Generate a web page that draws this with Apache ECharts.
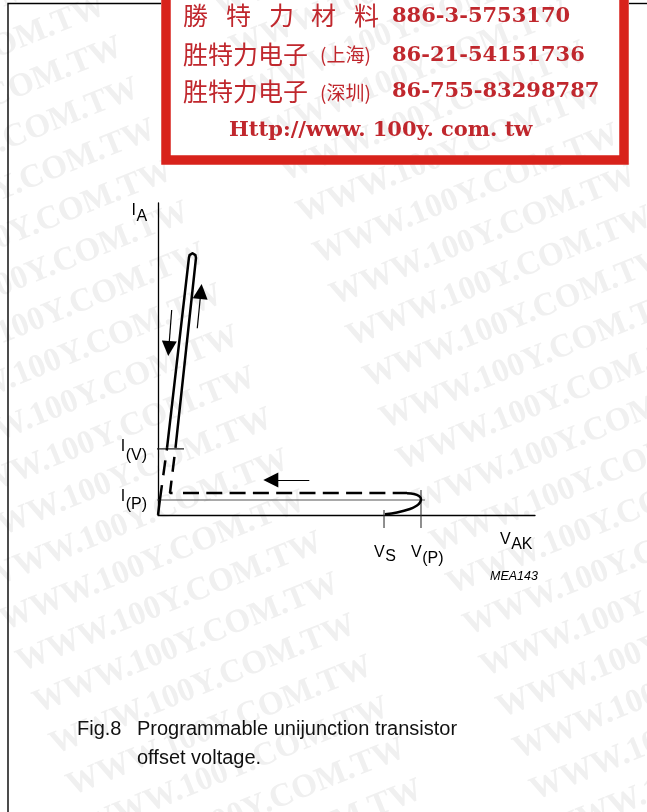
<!DOCTYPE html>
<html>
<head>
<meta charset="utf-8">
<script src="https://cdn.jsdelivr.net/npm/echarts@6/dist/echarts.min.js"></script>
<style>
  html, body { margin: 0; padding: 0; background: #ffffff; }
  #main { width: 647px; height: 812px; }
</style>
</head>
<body>
<div id="main"></div>
<script>
// Programmable unijunction transistor: I_A against V_AK, schematic units (0..100 on both axes)
const vAxisMax = 100;
const iAxisMax = 100;

// Characteristic levels
const iPeak = 4.8;      // I(P)
const iValley = 21.2;   // I(V)
const vS = 59.95;       // V_S
const vPeak = 69.76;    // V(P)

// Trace pieces, [V_AK, I_A]
const originRise     = [[0, 0], [0.5, 4.8]];
const riseToValley   = [[0.5, 4.8], [2.4, 21.5]];
const onStateLoop    = [[2.4, 21.5], [8.2, 82.4], [8.38, 83.3], [9.15, 83.9], [9.92, 83.3], [10.08, 82.4], [4.64, 21.5]];
const fallToPeakLvl  = [[4.64, 21.5], [3.18, 7.05], [5.31, 7.05]];
const returnTrace    = [[6.63, 7.05], [66.05, 7.05]];
const peakTurn       = [[66.05, 6.96], [67.9, 6.73], [69.23, 6.09], [69.76, 5.13], [69.5, 4.01], [68.7, 3.04], [66.84, 1.92], [63.4, 0.8], [60.21, 0.22]];

// Marker lines
const valleyMarker = [[-1.33, iValley], [6.9, iValley]];
const peakMarker   = [[-1.33, iPeak], [70.82, iPeak]];
const vSMarker     = [[vS, 1.6], [vS, -4.2]];
const vPeakMarker  = [[vPeak, 8.0], [vPeak, -4.2]];

// Direction arrows along the trace
const traceArrows = [
  [[3.63, 65.71], [2.86, 53.37]],
  [[10.42, 59.84], [11.38, 71.63]],
  [[40.13, 11.22], [29.92, 11.22]]
];

// Texts
const boxLines = {
  row1Cjk: ['勝', '特', '力', '材', '料'],
  row1Num: '886-3-5753170',
  row2Cjk: '胜特力电子', row2Loc: '(上海)', row2Num: '86-21-54151736',
  row3Cjk: '胜特力电子', row3Loc: '(深圳)', row3Num: '86-755-83298787',
  url: 'Http://www. 100y. com. tw'
};
const captionNo = 'Fig.8';
const captionLines = ['Programmable unijunction transistor', 'offset voltage.'];
const drawingCode = 'MEA143';
const watermarkText = 'WWW.100Y.COM.TW';

const chart = echarts.init(document.getElementById('main'), null, { renderer: 'canvas' });

function lineSeries(data, opts) {
  return Object.assign({
    type: 'line', data: data, showSymbol: false, symbol: 'none', silent: true,
    animation: false, z: 4,
    lineStyle: { color: '#000', width: 2.5, cap: 'butt', join: 'round' }
  }, opts);
}

const black = '#000';
chart.setOption({
  animation: false,
  backgroundColor: '#ffffff',
  grid: { left: 158, top: 203, width: 377, height: 312, outerBoundsMode: 'none', containLabel: false },
  xAxis: {
    type: 'value', min: 0, max: vAxisMax, z: 3,
    axisLine: { show: true, onZero: false, lineStyle: { color: black, width: 1.3 } },
    axisTick: { show: false }, axisLabel: { show: false }, splitLine: { show: false }
  },
  yAxis: {
    type: 'value', min: 0, max: iAxisMax, z: 3,
    axisLine: { show: true, onZero: false, lineStyle: { color: black, width: 1.3 } },
    axisTick: { show: false }, axisLabel: { show: false }, splitLine: { show: false }
  },
  series: [
    lineSeries(peakMarker,   { clip: false, z: 3, lineStyle: { color: '#555', width: 1.1 } }),
    lineSeries(valleyMarker, { clip: false, z: 3, lineStyle: { color: '#222', width: 1.1 } }),
    lineSeries(vSMarker,     { clip: false, z: 3, lineStyle: { color: '#333', width: 1.1 } }),
    lineSeries(vPeakMarker,  { clip: false, z: 3, lineStyle: { color: '#333', width: 1.1 } }),
    lineSeries(originRise,   { clip: false }),
    lineSeries(riseToValley, { clip: false, lineStyle: { color: black, width: 2.5, type: [15, 10] } }),
    lineSeries(onStateLoop,  { clip: false, smooth: false }),
    lineSeries(fallToPeakLvl,{ clip: false, lineStyle: { color: black, width: 2.5, type: [15, 9], dashOffset: 15 } }),
    lineSeries(returnTrace,  { clip: false, lineStyle: { color: black, width: 2.5, type: [16, 7.3] } }),
    lineSeries(peakTurn,     { clip: false, smooth: 0.4 }),
    {
      type: 'lines', coordinateSystem: 'cartesian2d', silent: true, animation: false, z: 4,
      symbol: ['none', 'triangle'], symbolSize: [7, 15],
      lineStyle: { color: black, width: 1.2, opacity: 1, curveness: 0 },
      data: traceArrows.map(c => ({ coords: c }))
    }
  ]
});

// ---- texts and decoration ----
const measureCtx = document.createElement('canvas').getContext('2d');
function textWidth(str, font) { measureCtx.font = font; return measureCtx.measureText(str).width; }
const px = (v, i) => chart.convertToPixel({ gridIndex: 0 }, [v, i]);

const elements = [];
// (x, y): left edge and vertical middle of the text
function txt(str, x, y, font, fill, align) {
  elements.push({
    type: 'text', x: x, y: y, silent: true, z: 5,
    style: { text: str, font: font, fill: fill || '#000', align: align || 'left', verticalAlign: 'middle' }
  });
}
// main letter plus lowered subscript; y values are the middles of each part
const labelFont = '16px "Liberation Sans"';
function subLabel(main, sub, x, yMain, ySub, alignRight) {
  const wMain = textWidth(main, labelFont);
  const wSub = textWidth(sub, labelFont);
  const left = alignRight ? x - wMain - wSub - 0.5 : x;
  txt(main, left, yMain, labelFont);
  txt(sub, left + wMain + 0.5, ySub, labelFont);
}

// Watermark tiles
const wmAngle = 22 * Math.PI / 180;
const ux = Math.cos(wmAngle), uy = -Math.sin(wmAngle);
const vx = Math.sin(wmAngle), vy = Math.cos(wmAngle);
const wmPeriod = 428, wmRow = 44.5, wmOrigin = [-109, 349];
for (let i = -14; i <= 24; i++) {
  for (let j = -3; j <= 3; j++) {
    const x = wmOrigin[0] + j * wmPeriod * ux + i * wmRow * vx;
    const y = wmOrigin[1] + j * wmPeriod * uy + i * wmRow * vy;
    if (x > 680 || x < -420 || y < -150 || y > 1000) continue;
    elements.push({
      type: 'text', x: x, y: y, rotation: wmAngle, silent: true, z: 1,
      style: { text: watermarkText, font: 'bold 33px "Liberation Serif"', fill: '#f0f0f0', align: 'left', verticalAlign: 'bottom' }
    });
  }
}

// Page frame
elements.push({ type: 'polyline', silent: true, z: 2, shape: { points: [[8, 830], [8, 3.5], [161, 3.5]] }, style: { stroke: '#000', lineWidth: 1.4, fill: null } });
elements.push({ type: 'line', silent: true, z: 2, shape: { x1: 629, y1: 3.5, x2: 660, y2: 3.5 }, style: { stroke: '#000', lineWidth: 1.4 } });

// Supplier box
elements.push({ type: 'rect', silent: true, z: 2, shape: { x: 166, y: -20, width: 458, height: 180 }, style: { stroke: '#d8221b', lineWidth: 9.5, fill: null } });
const red = '#c0272d';
const cjkBig = '25px "Noto Sans CJK SC"';
const cjkSmall = '19px "Noto Sans CJK SC"';
const serifNum = 'bold 21px "DejaVu Serif"';
const row1X = [183, 226, 269, 311, 354];
boxLines.row1Cjk.forEach((c, k) => txt(c, row1X[k], 15.5, cjkBig, red));
txt(boxLines.row1Num, 392, 16.5, serifNum, red);
txt(boxLines.row2Cjk, 183, 54, cjkBig, red);
txt(boxLines.row2Loc, 320, 55, cjkSmall, red);
txt(boxLines.row2Num, 392, 55.5, serifNum, red);
txt(boxLines.row3Cjk, 183, 91.5, cjkBig, red);
txt(boxLines.row3Loc, 320, 92.5, cjkSmall, red);
txt(boxLines.row3Num, 392, 91.5, serifNum, red);
txt(boxLines.url, 229, 131, serifNum, red);

// Axis labels, placed from the axis values
const topLeft = px(0, iAxisMax);
subLabel('I', 'A', topLeft[0] - 26.5, topLeft[1] + 8, topLeft[1] + 14, false);
const pV = px(0, iValley);
subLabel('I', '(V)', pV[0] - 11, pV[1] - 2, pV[1] + 6.5, true);
const pP = px(0, iPeak);
subLabel('I', '(P)', pP[0] - 11, pP[1] - 3, pP[1] + 5, true);
const pS = px(vS, 0);
subLabel('V', 'S', pS[0] - 10, pS[1] + 37.5, pS[1] + 42, false);
const pVP = px(vPeak, 0);
subLabel('V', '(P)', pVP[0] - 10, pVP[1] + 37.5, pVP[1] + 44, false);
const pEnd = px(vAxisMax, 0);
subLabel('V', 'AK', pEnd[0] - 35, pEnd[1] + 25, pEnd[1] + 30, false);
txt(drawingCode, 490, 577, 'italic 12.5px "Liberation Sans"');

// Caption
const capFont = '20px "Liberation Sans"';
txt(captionNo, 77, 729, capFont, '#111');
txt(captionLines[0], 137, 729, capFont, '#111');
txt(captionLines[1], 137, 758, capFont, '#111');

chart.setOption({ graphic: { elements: elements } });
</script>
</body>
</html>
